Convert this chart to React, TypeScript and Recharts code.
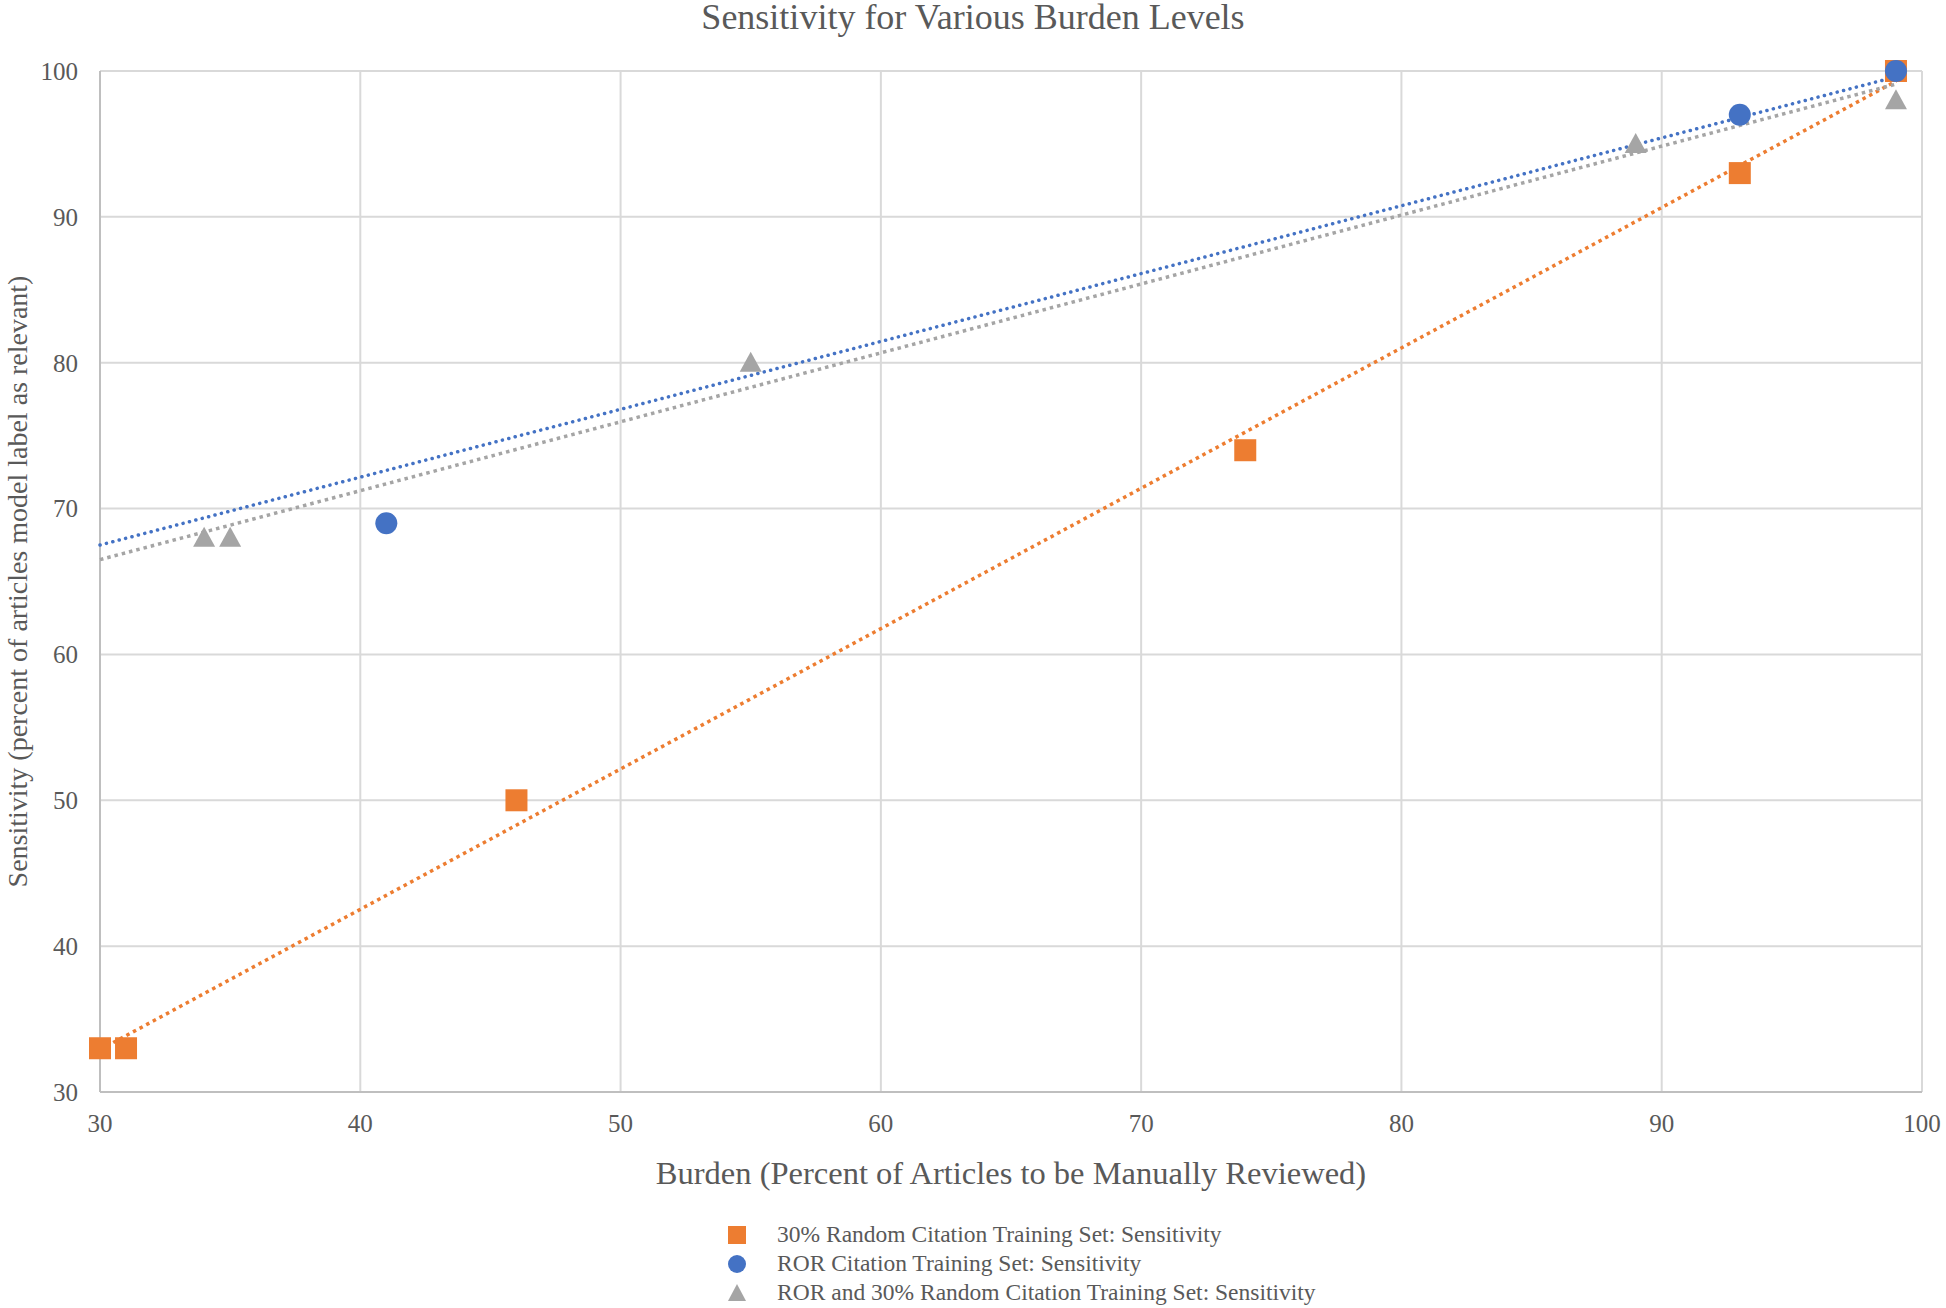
import { ScatterChart, Scatter, XAxis, YAxis, CartesianGrid } from 'recharts'

const xTicks = [30, 40, 50, 60, 70, 80, 90, 100]
const yTicks = [30, 40, 50, 60, 70, 80, 90, 100]

const randomSet = [
  { x: 30, y: 33 },
  { x: 31, y: 33 },
  { x: 46, y: 50 },
  { x: 74, y: 74 },
  { x: 93, y: 93 },
  { x: 99, y: 100 },
]
const rorSet = [
  { x: 41, y: 69 },
  { x: 93, y: 97 },
  { x: 99, y: 100 },
]
const combinedSet = [
  { x: 34, y: 68 },
  { x: 35, y: 68 },
  { x: 55, y: 80 },
  { x: 89, y: 95 },
  { x: 99, y: 98 },
]

// trendline ends
const randomTrend = [
  { x: 30, y: 32.9 },
  { x: 99, y: 99.3 },
]
const rorTrend = [
  { x: 30, y: 67.5 },
  { x: 99, y: 99.6 },
]
const combinedTrend = [
  { x: 30, y: 66.5 },
  { x: 99, y: 99.1 },
]

const ORANGE = '#ED7D31'
const BLUE = '#4472C4'
const GREY = '#A5A5A5'
const TEXT = '#595959'
const FONT = '"Liberation Serif", "DejaVu Serif", serif'

const legendItems = [
  { name: '30% Random Citation Training Set: Sensitivity', color: ORANGE, kind: 'square' },
  { name: 'ROR Citation Training Set: Sensitivity', color: BLUE, kind: 'circle' },
  { name: 'ROR and 30% Random Citation Training Set: Sensitivity', color: GREY, kind: 'triangle' },
]

const Square = (props: any) => (
  <rect x={props.cx - 11} y={props.cy - 11} width={22} height={22} fill={ORANGE} />
)
const Dot = (props: any) => <circle cx={props.cx} cy={props.cy} r={11} fill={BLUE} />
const Tri = (props: any) => (
  <polygon
    points={`${props.cx},${props.cy - 11} ${props.cx + 11},${props.cy + 9} ${props.cx - 11},${props.cy + 9}`}
    fill={GREY}
  />
)
const NoShape = () => <g />

function LegendBox() {
  return (
    <div
      style={{
        position: 'absolute',
        left: 727,
        top: 1220,
        fontFamily: FONT,
        fontSize: 23.5,
        color: TEXT,
      }}
    >
      {legendItems.map((item) => (
        <div key={item.name} style={{ display: 'flex', alignItems: 'center', height: 29 }}>
          <svg width={50} height={22}>
            {item.kind === 'square' && <rect x={1} y={2} width={18} height={18} fill={item.color} />}
            {item.kind === 'circle' && <circle cx={10} cy={11} r={9} fill={item.color} />}
            {item.kind === 'triangle' && <polygon points="10,2 19,19 1,19" fill={item.color} />}
          </svg>
          <span>{item.name}</span>
        </div>
      ))}
    </div>
  )
}

export default function App() {
  return (
    <div style={{ position: 'absolute', left: 0, top: 0, width: 1946, height: 1308, background: '#fff' }}>
      <style>{'body{margin:0}'}</style>
      <div
        style={{
          position: 'absolute',
          top: 0,
          left: 0,
          width: 1946,
          textAlign: 'center',
          fontFamily: FONT,
          fontSize: 36,
          color: TEXT,
          lineHeight: '34px',
        }}
      >
        Sensitivity for Various Burden Levels
      </div>
      <ScatterChart width={1946} height={1308} margin={{ top: 71, right: 24, bottom: 121, left: 0 }}>
        <CartesianGrid stroke="#d9d9d9" strokeWidth={2} />
        <XAxis
          type="number"
          dataKey="x"
          domain={[30, 100]}
          ticks={xTicks}
          height={95}
          tickLine={false}
          tickMargin={16}
          axisLine={{ stroke: '#bfbfbf', strokeWidth: 2 }}
          tick={{ fill: TEXT, fontSize: 25, fontFamily: FONT }}
          label={{
            value: 'Burden (Percent of Articles to be Manually Reviewed)',
            position: 'insideBottom',
            offset: 3,
            style: { fill: TEXT, fontSize: 32.5, fontFamily: FONT },
          }}
        />
        <YAxis
          type="number"
          dataKey="y"
          domain={[30, 100]}
          ticks={yTicks}
          width={100}
          tickLine={false}
          tickMargin={16}
          axisLine={{ stroke: '#bfbfbf', strokeWidth: 2 }}
          tick={{ fill: TEXT, fontSize: 25, fontFamily: FONT }}
          label={{
            value: 'Sensitivity (percent of articles model label as relevant)',
            angle: -90,
            position: 'insideLeft',
            offset: 17,
            style: { fill: TEXT, fontSize: 28, fontFamily: FONT, textAnchor: 'middle' },
          }}
        />
        <Scatter
          data={randomTrend}
          line={{ stroke: ORANGE, strokeWidth: 3.5, strokeDasharray: '3.5 4' }}
          shape={NoShape}
          isAnimationActive={false}
          legendType="none"
        />
        <Scatter
          data={rorTrend}
          line={{ stroke: BLUE, strokeWidth: 3.5, strokeDasharray: '0.1 6.5', strokeLinecap: 'round' }}
          shape={NoShape}
          isAnimationActive={false}
          legendType="none"
        />
        <Scatter
          data={combinedTrend}
          line={{ stroke: GREY, strokeWidth: 3.5, strokeDasharray: '3.5 4' }}
          shape={NoShape}
          isAnimationActive={false}
          legendType="none"
        />
        <Scatter name="30% Random Citation Training Set: Sensitivity" data={randomSet} shape={Square} isAnimationActive={false} />
        <Scatter name="ROR Citation Training Set: Sensitivity" data={rorSet} shape={Dot} isAnimationActive={false} />
        <Scatter name="ROR and 30% Random Citation Training Set: Sensitivity" data={combinedSet} shape={Tri} isAnimationActive={false} />
      </ScatterChart>
      <LegendBox />
    </div>
  )
}
